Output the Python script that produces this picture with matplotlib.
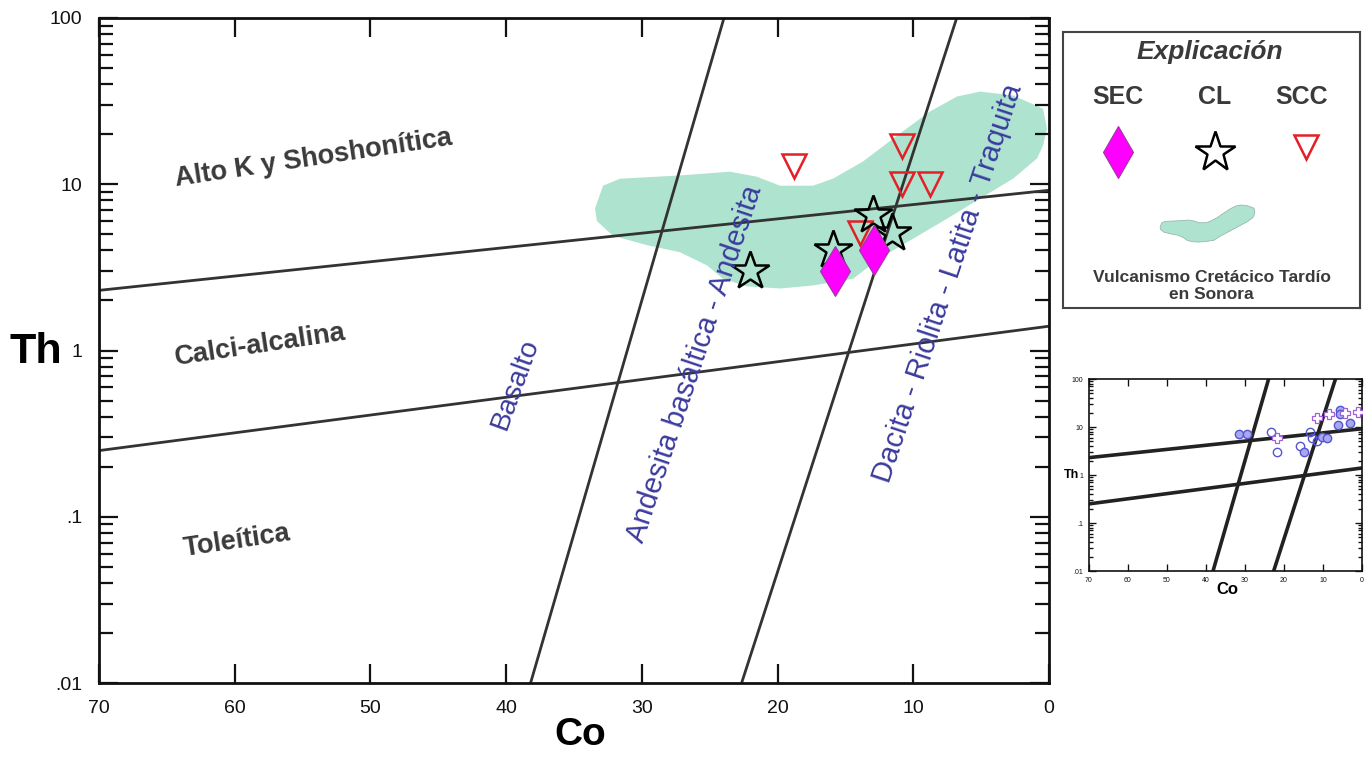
import numpy as np
import matplotlib
matplotlib.use('Agg')
import matplotlib.pyplot as plt
from matplotlib.ticker import LogLocator, FixedLocator, FuncFormatter, NullLocator, NullFormatter

plt.rcParams['font.family'] = ['Liberation Sans', 'DejaVu Sans']

# --- data (Co in ppm, Th in ppm) ---
# classification boundaries
line_k_co = [70, 0]
line_k_th = [2.3, 9.2]
line_ca_co = [70, 0]
line_ca_th = [0.25, 1.4]
line_bas_co = [38.2, 23.95]
line_bas_th = [0.01, 100]
line_and_co = [22.65, 6.8]
line_and_th = [0.01, 100]

# samples
sec_co = [15.8, 12.9]
sec_th = [3.0, 4.0]
cl_co = [22.0, 15.9, 13.0, 11.6]
cl_th = [3.0, 4.0, 6.5, 5.1]
scc_co = [18.8, 10.8, 10.8, 8.8, 13.9]
scc_th = [12.8, 16.9, 10.0, 10.0, 5.1]

# Late Cretaceous volcanism of Sonora (field outline)
field_co = [33.45, 32.86, 31.61, 27.19, 23.51, 21.52, 19.82, 17.39, 15.92, 13.71,
            11.20, 8.77, 6.78, 5.08, 2.65, 0.44, 0.15, 0.44, 0.88, 2.65,
            5.08, 7.52, 10.02, 12.45, 14.44, 17.39, 19.82, 22.25, 24.02, 25.20,
            27.19, 29.62, 32.13, 33.31]
field_th = [7.15, 9.8, 10.8, 11.3, 11.9, 11.1, 9.8, 9.8, 10.8, 13.7,
            19.6, 27.4, 33.7, 36.1, 34.2, 28.5, 21.6, 17.1, 14.3, 10.8,
            8.2, 6.2, 4.7, 3.6, 2.7, 2.46, 2.36, 2.43, 2.7, 3.25,
            3.9, 4.3, 4.9, 6.0]

# inset (reference diagram)
ins_filled_co = [31.5, 29.6, 14.8, 10.3, 9.05, 6.2, 5.6, 5.6, 3.1]
ins_filled_th = [7.1, 7.1, 3.0, 6.2, 6.0, 11, 23, 18.3, 12.2]
ins_open_co = [23.4, 21.9, 15.9, 13.3, 12.9, 11.6]
ins_open_th = [7.9, 3.0, 4.0, 7.9, 6.0, 5.1]
ins_plus_co = [21.9, 11.6, 8.4, 4.4, 1.1]
ins_plus_th = [5.8, 15.1, 18.3, 19.2, 20.2]

y_tick_vals = [0.01, 0.1, 1, 10, 100]
y_tick_txt = ['.01', '.1', '1', '10', '100']
x_tick_vals = [70, 60, 50, 40, 30, 20, 10, 0]

FIELD = '#aee3cf'
LINE = '#333333'
BLUE = '#3b3b9e'
GREY = '#3a3a3a'

W, H = 1367, 757
fig = plt.figure(figsize=(W / 100, H / 100), dpi=100)


def px_axes(l, t, r, b):
    return fig.add_axes([l / W, 1 - b / H, (r - l) / W, (b - t) / H])


def ytxt(v, pos):
    return dict(zip(y_tick_vals, y_tick_txt)).get(v, '')


def setup_axes(a, lab_size, maj_len, min_len, lw, pad):
    a.set_yscale('log')
    a.set_xlim(70, 0)
    a.set_ylim(0.01, 100)
    a.xaxis.set_major_locator(FixedLocator(x_tick_vals))
    a.xaxis.set_minor_locator(NullLocator())
    a.yaxis.set_major_locator(FixedLocator(y_tick_vals))
    a.yaxis.set_minor_locator(LogLocator(base=10, subs=np.arange(2, 10)))
    a.yaxis.set_major_formatter(FuncFormatter(ytxt))
    a.yaxis.set_minor_formatter(NullFormatter())
    a.tick_params(which='both', direction='in', top=True, right=True,
                  width=lw * 0.8, colors='#111111', labelsize=lab_size, pad=pad)
    a.tick_params(which='major', length=maj_len)
    a.tick_params(which='minor', length=min_len)
    for s in a.spines.values():
        s.set_linewidth(lw)
        s.set_color('#111111')


# ---------------- main diagram ----------------
ax = px_axes(99, 18, 1049, 683)
setup_axes(ax, 14, 14, 10, 2.0, 12)

ax.fill(field_co, field_th, color=FIELD, lw=0, zorder=1)
for co, th in [(line_k_co, line_k_th), (line_ca_co, line_ca_th),
               (line_bas_co, line_bas_th), (line_and_co, line_and_th)]:
    ax.plot(co, th, color=LINE, lw=2.0, zorder=2, solid_capstyle='butt')

ax.plot(scc_co, scc_th, 'v', ms=17, mfc='none', mec='#e32028', mew=1.8, zorder=4)
ax.plot(cl_co, cl_th, '*', ms=29, mfc='none', mec='black', mew=1.8, zorder=5)
ax.plot(sec_co, sec_th, 'd', ms=25, mfc='#ff00ff', mec='#9a3a9a', mew=0.8, zorder=6)

ax.text(54.2, 14.3, 'Alto K y Shoshonítica', fontsize=19.5, fontweight='bold', color=GREY,
        rotation=8.5, ha='center', va='center', rotation_mode='anchor')
ax.text(58.1, 1.07, 'Calci-alcalina', fontsize=19.5, fontweight='bold', color=GREY,
        rotation=8.5, ha='center', va='center', rotation_mode='anchor')
ax.text(59.8, 0.071, 'Toleítica', fontsize=19.5, fontweight='bold', color=GREY,
        rotation=8.5, ha='center', va='center', rotation_mode='anchor')
ax.text(39.3, 0.633, 'Basalto', fontsize=20.5, color=BLUE, rotation=70,
        ha='center', va='center', rotation_mode='anchor', zorder=7)
ax.text(26.1, 0.835, 'Andesita basáltica - Andesita', fontsize=21, color=BLUE, rotation=71.5,
        ha='center', va='center', rotation_mode='anchor', zorder=7)
ax.text(7.44, 2.53, 'Dacita - Riolita - Latita - Traquita', fontsize=21, color=BLUE,
        rotation=71.5, ha='center', va='center', rotation_mode='anchor', zorder=7)

fig.text(36 / W, 1 - 352 / H, 'Th', fontsize=31, fontweight='bold', ha='center', va='center')
fig.text(580 / W, 1 - 735 / H, 'Co', fontsize=28, fontweight='bold', ha='center', va='center')

# ---------------- legend box ----------------
lg = px_axes(1063, 32, 1360, 308)
lg.set_xlim(0, 1)
lg.set_ylim(0, 1)
lg.set_xticks([])
lg.set_yticks([])
for s in lg.spines.values():
    s.set_linewidth(1.5)
    s.set_color('#444444')

lg.text(0.495, 0.928, 'Explicación', fontsize=19, fontweight='bold', fontstyle='italic',
        color=GREY, ha='center', va='center')
for x, lab in [(0.185, 'SEC'), (0.512, 'CL'), (0.805, 'SCC')]:
    lg.text(x, 0.764, lab, fontsize=18, fontweight='bold', color=GREY, ha='center', va='center')
lg.plot([0.185], [0.565], 'd', ms=26, mfc='#ff00ff', mec='#9a3a9a', mew=0.8)
lg.plot([0.512], [0.565], '*', ms=30, mfc='none', mec='black', mew=1.8)
lg.plot([0.818], [0.583], 'v', ms=17, mfc='none', mec='#e32028', mew=1.8)

fx = -np.array(field_co)
fy = np.log10(field_th)
fx = 0.327 + (fx - fx.min()) / (fx.max() - fx.min()) * (0.646 - 0.327)
fy = 0.239 + (fy - fy.min()) / (fy.max() - fy.min()) * (0.373 - 0.239)
lg.fill(fx, fy, color=FIELD, ec='#9ab8aa', lw=0.6)
lg.text(0.5, 0.08, 'Vulcanismo Cretácico Tardío\nen Sonora', fontsize=12.5, fontweight='bold',
        color=GREY, ha='center', va='center', linespacing=1.2)

# ---------------- inset ----------------
ins = px_axes(1089, 379, 1362, 571)
setup_axes(ins, 5, 5, 3, 1.2, 4)
for co, th in [(line_k_co, line_k_th), (line_ca_co, line_ca_th),
               (line_bas_co, line_bas_th), (line_and_co, line_and_th)]:
    ins.plot(co, th, color='#222222', lw=2.6, zorder=2)
ins.plot(ins_open_co, ins_open_th, 'o', ms=6, mfc='none', mec='#5555d0', mew=1.0, zorder=3)
ins.plot(ins_filled_co, ins_filled_th, 'o', ms=6, mfc='#a8a8ee', mec='#5555d0', mew=1.0, zorder=3)
ins.plot(ins_plus_co, ins_plus_th, 'P', ms=7, mfc='white', mec='#a060d8', mew=0.9, zorder=4)

fig.text(1072 / W, 1 - 475 / H, 'Th', fontsize=9, fontweight='bold', ha='center', va='center')
fig.text(1227 / W, 1 - 590 / H, 'Co', fontsize=12, fontweight='bold', ha='center', va='center')

fig.savefig('out.png', dpi=100)
